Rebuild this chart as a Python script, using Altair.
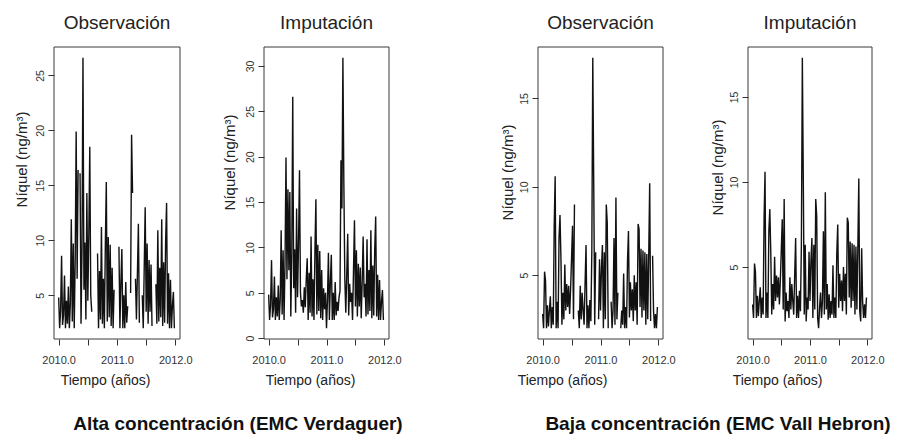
import altair as alt
import pandas as pd

# Sampling grid: one reading every 1/60 year, from the start of 2010 to the end of 2011
tiempo = [2010 + i / 60 for i in range(120)]

# Verdaguer station (high concentration); None marks a missing reading
verdaguer_obs = [
    4.8, 2.0, 3.6, 8.6, 2.3, 3.2, 6.8, 2.0, 4.5, 2.4,
    5.8, 2.0, 4.2, 11.9, 2.6, 9.7, 2.0, 8.3, 19.9, 6.5,
    16.4, None, 16.1, 2.4, 9.2, 26.6, 5.5, 9.8, 2.8, 14.3,
    4.5, 10.5, 18.5, 5.0, 3.5, None, None, None, None, None,
    8.8, 2.0, 7.2, 2.8, 11.2, 2.4, 6.5, 2.0, 9.5, 15.3,
    2.6, 10.3, 3.0, 9.6, 2.2, 7.5, 2.0, 5.5, None, None,
    None, None, 9.4, 2.0, 6.2, 9.2, 2.0, 5.0, 2.0, 6.2,
    2.5, 4.0, None, None, 5.2, 19.6, 14.3, None, None, 6.5,
    2.8, 7.0, 11.5, 2.5, None, None, 5.0, 2.0, 7.5, 13.0,
    3.5, 9.7, 2.4, 8.2, 3.5, 7.8, 2.2, None, None, None,
    6.0, 2.4, 10.9, 2.6, 7.5, 3.0, 11.9, 2.2, 8.0, 2.5,
    9.8, 13.4, 2.4, 7.0, 2.0, 6.4, 2.0, 4.0, 5.3, 2.0,
]
# Imputed values, in order, for each missing Verdaguer reading
verdaguer_imputados = [7.5, 4.2, 2.8, 5.6, 3.4, 6.5, 3.2, 5.0, 1.1, 4.2,
                       3.0, 4.5, 30.9, 17.0, 6.0, 4.0, 6.2, 11.2, 4.5]

# Vall Hebron station (low concentration)
vall_hebron_obs = [
    2.8, 2.0, 5.2, 4.7, 2.0, 3.3, 2.1, 3.0, 3.8, 2.0,
    3.2, 2.2, 7.8, 10.6, 2.0, 3.5, 2.0, 7.1, 8.4, 5.9,
    2.2, 4.0, 2.5, 5.6, 3.0, 4.5, 3.2, 4.4, 2.8, 4.2,
    6.0, 7.8, 2.5, 9.0, None, None, None, 3.0, 2.0, 4.4,
    2.5, 4.0, 3.0, 2.2, 4.5, 6.7, 2.0, 3.3, 2.0, 3.6,
    2.4, 6.3, 17.3, 10.1, 2.2, 6.3, None, None, 2.5, 5.9,
    3.0, 5.4, 6.7, 2.0, 6.3, 2.5, 9.0, 8.0, 2.0, None,
    None, 3.5, 2.0, 3.0, 7.1, 2.2, 9.4, 2.5, 4.0, None,
    None, 2.0, 3.0, 2.2, 5.1, 2.0, 3.2, 2.0, 5.8, 7.5,
    2.6, 4.6, 3.0, 4.2, 2.4, 5.0, 3.0, 4.6, 2.2, 7.9,
    7.6, 3.2, 6.5, 2.6, 6.4, 3.0, 6.3, 2.2, 6.2, 2.5,
    6.1, 10.2, 2.4, None, 6.1, 3.0, 2.0, 2.8, 2.0, 3.2,
]
vall_hebron_imputados = [1.8, 3.5, 2.4, 1.8, 3.2, 1.4, 2.6, 1.9, 3.4, 1.8]

x_ticks = [2010.0, 2010.5, 2011.0, 2011.5, 2012.0]
y_ticks_verdaguer_obs = [5, 10, 15, 20, 25]
y_ticks_verdaguer_imp = [0, 5, 10, 15, 20, 25, 30]
y_ticks_vall_hebron = [5, 10, 15]

FONT = "Liberation Sans"
W, H = 901, 438
TOP, BOTTOM = 47, 339
X_DOMAIN = [2009.92, 2012.08]


def completed(obs, imputed):
    """Observed series with its gaps filled by the imputed values."""
    it = iter(imputed)
    return [v if v is not None else next(it) for v in obs]


def extended_range(values):
    """Data range widened by 4% on each side."""
    present = [v for v in values if v is not None]
    lo, hi = min(present), max(present)
    pad = 0.04 * (hi - lo)
    return [lo - pad, hi + pad]


def segments(values):
    """Rows for the line; each run of consecutive readings gets its own id."""
    rows, seg, in_gap = [], 0, False
    for t, v in zip(tiempo, values):
        if v is None:
            if not in_gap:
                seg += 1
            in_gap = True
            continue
        in_gap = False
        rows.append({"t": t, "v": v, "seg": seg})
    return pd.DataFrame(rows)


def panel(values, left, right, y_ticks, title, ytitle_xy, xtitle_x):
    df = segments(values)
    y_dom = extended_range(values)
    xs = alt.Scale(domain=X_DOMAIN, range=[left, right], nice=False, zero=False)
    ys = alt.Scale(domain=y_dom, range=[BOTTOM, TOP], nice=False, zero=False)

    x_axis = alt.Axis(
        orient="bottom", offset=BOTTOM - H, values=x_ticks,
        labelExpr="datum.value % 1 == 0 ? format(datum.value, '.1f') : ''",
        labelFontSize=11, labelPadding=9, labelBaseline="top",
        title="Tiempo (años)", titleX=xtitle_x, titleY=41,
        titleBaseline="middle", titleAlign="center", titleFontSize=14,
    )
    y_axis = alt.Axis(
        orient="left", offset=-left, values=y_ticks, format="d",
        labelAngle=270, labelAlign="center", labelBaseline="bottom",
        labelFontSize=10.5, labelPadding=3,
        title="Níquel (ng/m³)", titleAngle=270, titleAlign="center",
        titleBaseline="middle", titleX=ytitle_xy[0] - left, titleY=ytitle_xy[1],
        titleFontSize=15,
    )

    line = alt.Chart(df).mark_line(color="#111111", strokeWidth=1.4).encode(
        x=alt.X("t:Q", scale=xs, axis=x_axis),
        y=alt.Y("v:Q", scale=ys, axis=y_axis),
        detail="seg:N",
    )

    one = pd.DataFrame({"k": [0]})
    frame = alt.Chart(one).mark_rect(fillOpacity=0, stroke="#3a3a3a", strokeWidth=1).encode(
        x=alt.XDatum(X_DOMAIN[0], type="quantitative", axis=x_axis),
        x2=alt.X2Datum(X_DOMAIN[1]),
        y=alt.YDatum(y_dom[0], type="quantitative", axis=y_axis),
        y2=alt.Y2Datum(y_dom[1]),
    )
    head = alt.Chart(one).mark_text(
        text=title, font=FONT, fontSize=19, color="#222222", baseline="middle", dy=-24
    ).encode(
        x=alt.XDatum(sum(X_DOMAIN) / 2, type="quantitative", axis=x_axis),
        y=alt.YDatum(y_dom[1], type="quantitative", axis=y_axis),
    )
    return alt.layer(line, frame, head)


p1 = panel(verdaguer_obs, 54, 180, y_ticks_verdaguer_obs, "Observación", (21, 159), 105)
p2 = panel(completed(verdaguer_obs, verdaguer_imputados), 264, 389,
           y_ticks_verdaguer_imp, "Imputación", (229, 162), 310)
p3 = panel(vall_hebron_obs, 538, 663, y_ticks_vall_hebron, "Observación", (507, 172), 562)
p4 = panel(completed(vall_hebron_obs, vall_hebron_imputados), 748, 872,
           y_ticks_vall_hebron, "Imputación", (717, 167), 777)

captions_df = pd.DataFrame({
    "texto": ["Alta concentración (EMC Verdaguer)", "Baja concentración (EMC Vall Hebron)"],
    "cx": [238, 718],
})
captions = alt.layer(*[
    alt.Chart(captions_df.iloc[[i]]).mark_text(
        font=FONT, fontSize=19, fontWeight="bold", color="#111111", baseline="middle"
    ).encode(x=alt.value(int(captions_df.cx[i])), y=alt.value(424), text="texto:N")
    for i in range(2)
])

chart = (
    alt.layer(p1, p2, p3, p4, captions)
    .resolve_scale(x="independent", y="independent")
    .resolve_axis(x="independent", y="independent")
    .properties(width=W, height=H, autosize=alt.AutoSizeParams(type="none"), padding=0)
    .configure_view(strokeWidth=0)
    .configure_axis(
        grid=False, domain=False, tickSize=6, tickColor="#333333", tickWidth=1,
        labelFont=FONT, labelColor="#333333", labelFlush=False, labelOverlap=False,
        titleFont=FONT, titleFontWeight="normal", titleColor="#222222",
    )
)

chart.save("out.html", embed_options={"renderer": "svg", "actions": False})
